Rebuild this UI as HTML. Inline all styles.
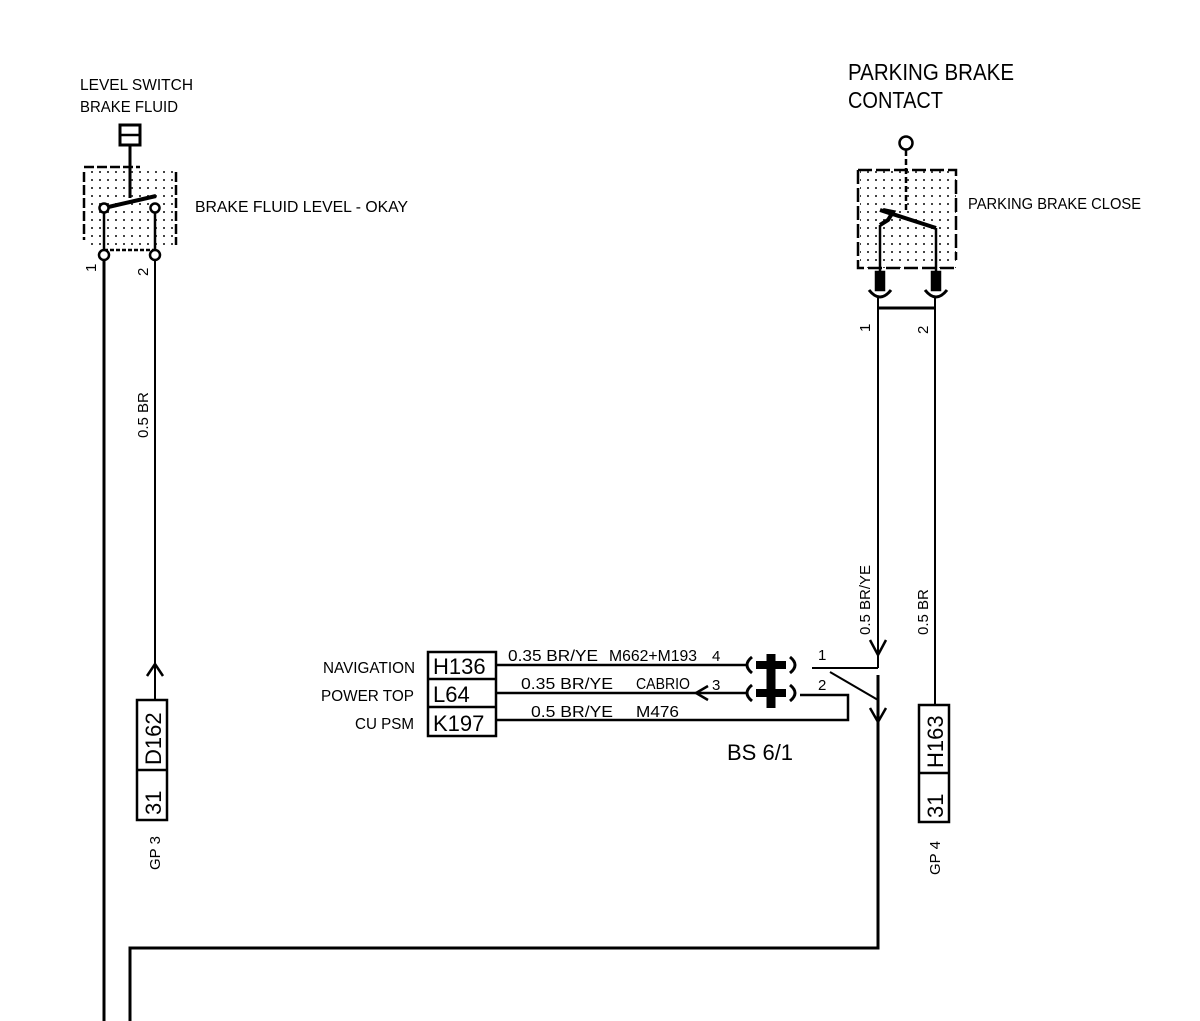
<!DOCTYPE html>
<html><head><meta charset="utf-8"><style>html,body{margin:0;padding:0;background:#fff}svg{display:block}text{font-family:"Liberation Sans",sans-serif;fill:#000}</style></head>
<body>
<svg width="1200" height="1021" viewBox="0 0 1200 1021" xmlns="http://www.w3.org/2000/svg">
<defs>
<pattern id="dots" width="8" height="8" patternUnits="userSpaceOnUse"><rect x="3" y="3" width="2" height="2" fill="#444"/></pattern>
</defs>
<g stroke="#000" fill="none" stroke-width="2.5">
<rect x="86" y="167" width="92" height="82" fill="url(#dots)" stroke="none"/>
<path d="M84 167 H140 M84 172 V240 M176 172 V245" stroke-dasharray="10 3"/>
<rect x="120" y="125" width="20" height="20" stroke-width="3"/>
<line x1="120" y1="135" x2="140" y2="135"/>
<line x1="130" y1="145" x2="130" y2="198" stroke-width="3"/>
<line x1="104" y1="208" x2="156" y2="196" stroke-width="4"/>
<circle cx="104" cy="208" r="4.5" fill="#fff"/>
<circle cx="155" cy="208" r="4.5" fill="#fff"/>
<line x1="104" y1="213" x2="104" y2="250"/>
<line x1="155" y1="213" x2="155" y2="250"/>
<line x1="104" y1="250" x2="155" y2="250" stroke-dasharray="4 2"/>
<circle cx="104" cy="255" r="5" fill="#fff"/>
<circle cx="155" cy="255" r="5" fill="#fff"/>
<line x1="104" y1="260" x2="104" y2="1021" stroke-width="3"/>
<line x1="155" y1="260" x2="155" y2="700" stroke-width="2"/>
<path d="M147 676 L155 664 L163 676" stroke-width="2.5"/>
<rect x="137" y="700" width="30" height="120" stroke-width="2.5"/>
<line x1="137" y1="770" x2="167" y2="770"/>
<path d="M130 1021 V948 H878 V675" stroke-width="3"/>
<path d="M870 708 L878 722 L886 708" stroke-width="2.5"/>
<rect x="860" y="170" width="96" height="98" fill="url(#dots)" stroke="none"/>
<path d="M858 170 H956 V260 M858 170 V268 H956" stroke-dasharray="14 4"/>
<circle cx="906" cy="143" r="6.5" fill="#fff"/>
<line x1="906" y1="150" x2="906" y2="210" stroke-dasharray="6 3"/>
<path d="M880 210 L936 228" stroke-width="4"/>
<path d="M883 210 L893 212 L888 220 L880 225" stroke-width="4"/>
<line x1="880" y1="225" x2="880" y2="275"/>
<line x1="936" y1="228" x2="936" y2="275"/>
<rect x="876" y="272" width="8" height="18" fill="#000"/>
<rect x="932" y="272" width="8" height="18" fill="#000"/>
<path d="M869 290 Q880 304 891 290" stroke-width="3"/>
<path d="M925 290 Q936 304 947 290" stroke-width="3"/>
<line x1="878" y1="298" x2="878" y2="668" stroke-width="2"/>
<line x1="935" y1="298" x2="935" y2="705" stroke-width="2"/>
<line x1="878" y1="308" x2="935" y2="308" stroke-width="3"/>
<path d="M870 640 L878 655 L886 640" stroke-width="2.5"/>
<path d="M812 668 H878" stroke-width="2"/>
<path d="M830 672 L878 700 V948" stroke-width="2"/>
<rect x="919" y="705" width="30" height="117"/>
<line x1="919" y1="773" x2="949" y2="773"/>
<rect x="428" y="652" width="68" height="84" stroke-width="2.5"/>
<line x1="428" y1="679" x2="496" y2="679"/>
<line x1="428" y1="707" x2="496" y2="707"/>
<line x1="496" y1="665" x2="748" y2="665" stroke-width="2.5"/>
<line x1="496" y1="693" x2="748" y2="693" stroke-width="2.5"/>
<path d="M708 686 L696 693 L708 700" stroke-width="2.5"/>
<path d="M496 720 H848 V695 H800" stroke-width="2.5"/>
<path d="M752 657 Q742 665 752 673 M752 685 Q742 693 752 701" stroke-width="3"/>
<path d="M790 657 Q800 665 790 673 M790 685 Q800 693 790 701" stroke-width="3"/>
<line x1="771" y1="654" x2="771" y2="708" stroke-width="9"/>
<line x1="756" y1="665" x2="786" y2="665" stroke-width="8"/>
<line x1="756" y1="693" x2="786" y2="693" stroke-width="8"/>
</g>
<g font-size="16">
<text x="80" y="90" textLength="113" lengthAdjust="spacingAndGlyphs">LEVEL SWITCH</text>
<text x="80" y="112" textLength="98" lengthAdjust="spacingAndGlyphs">BRAKE FLUID</text>
<text x="195" y="212" textLength="213" lengthAdjust="spacingAndGlyphs">BRAKE FLUID LEVEL - OKAY</text>
<text x="968" y="209" textLength="173" lengthAdjust="spacingAndGlyphs">PARKING BRAKE CLOSE</text>
<text x="323" y="673" textLength="92" lengthAdjust="spacingAndGlyphs">NAVIGATION</text>
<text x="321" y="701" textLength="93" lengthAdjust="spacingAndGlyphs">POWER TOP</text>
<text x="355" y="729" textLength="59" lengthAdjust="spacingAndGlyphs">CU PSM</text>
<text x="508" y="661" textLength="90" lengthAdjust="spacingAndGlyphs">0.35 BR/YE</text>
<text x="609" y="661" textLength="88" lengthAdjust="spacingAndGlyphs">M662+M193</text>
<text x="521" y="689" textLength="92" lengthAdjust="spacingAndGlyphs">0.35 BR/YE</text>
<text x="636" y="689" textLength="54" lengthAdjust="spacingAndGlyphs">CABRIO</text>
<text x="531" y="717" textLength="82" lengthAdjust="spacingAndGlyphs">0.5 BR/YE</text>
<text x="636" y="717" textLength="43" lengthAdjust="spacingAndGlyphs">M476</text>
</g>
<g font-size="23"><text x="848" y="80" textLength="166" lengthAdjust="spacingAndGlyphs">PARKING BRAKE</text><text x="848" y="108" textLength="95" lengthAdjust="spacingAndGlyphs">CONTACT</text></g>
<g font-size="22"><text x="433" y="674">H136</text><text x="433" y="702">L64</text><text x="433" y="731">K197</text><text x="727" y="760">BS 6/1</text></g>
<g font-size="15"><text x="712" y="661">4</text><text x="712" y="690">3</text><text x="818" y="660">1</text><text x="818" y="690">2</text></g>
<g font-size="15">
<text transform="translate(96 272) rotate(-90)">1</text>
<text transform="translate(148 276) rotate(-90)">2</text>
<text transform="translate(870 332) rotate(-90)">1</text>
<text transform="translate(928 334) rotate(-90)">2</text>
<text transform="translate(148 438) rotate(-90)">0.5 BR</text>
<text transform="translate(870 635) rotate(-90)">0.5 BR/YE</text>
<text transform="translate(928 635) rotate(-90)">0.5 BR</text>
<text transform="translate(160 870) rotate(-90)">GP 3</text>
<text transform="translate(940 875) rotate(-90)">GP 4</text>
</g>
<g font-size="22">
<text transform="translate(161 815) rotate(-90)">31</text>
<text transform="translate(161 765) rotate(-90)">D162</text>
<text transform="translate(943 818) rotate(-90)">31</text>
<text transform="translate(943 768) rotate(-90)">H163</text>
</g>
</svg>
</body></html>
